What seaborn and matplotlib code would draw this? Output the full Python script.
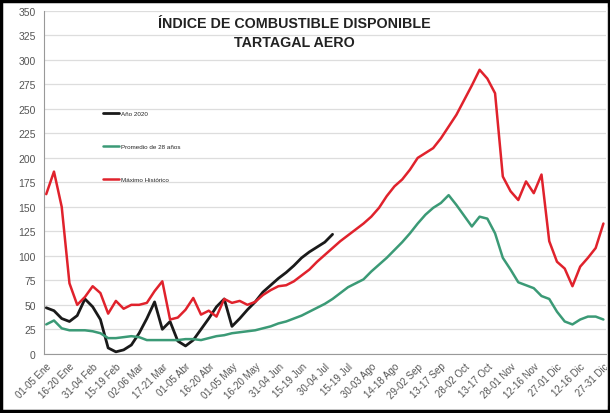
import numpy as np
import matplotlib.pyplot as plt
import seaborn as sns
from matplotlib.patches import Rectangle
from matplotlib.lines import Line2D

# etiquetas cada 3 pentadas (73 pentadas en el año)
tick_labels = ["01-05 Ene", "16-20 Ene", "31-04 Feb", "15-19 Feb", "02-06 Mar",
               "17-21 Mar", "01-05 Abr", "16-20 Abr", "01-05 May", "16-20 May",
               "31-04 Jun", "15-19 Jun", "30-04 Jul", "15-19 Jul", "30-03 Ago",
               "14-18 Ago", "29-02 Sep", "13-17 Sep", "28-02 Oct", "13-17 Oct",
               "28-01 Nov", "12-16 Nov", "27-01 Dic", "12-16 Dic", "27-31 Dic"]

anio_2020 = [47, 44, 36, 33, 39, 56, 48, 35, 6, 2, 4, 9, 21, 36, 53, 25, 33, 13,
             8, 14, 25, 36, 48, 56, 28, 36, 45, 53, 63, 70, 77, 83, 90, 98, 104,
             109, 114, 122]

promedio = [30, 34, 26, 24, 24, 24, 23, 21, 16, 16, 17, 18, 17, 14, 14, 14, 14,
            14, 15, 15, 14, 16, 18, 19, 21, 22, 23, 24, 26, 28, 31, 33, 36, 39,
            43, 47, 51, 56, 62, 68, 72, 76, 84, 91, 98, 106, 114, 123, 133, 142,
            149, 154, 162, 152, 141, 130, 140, 138, 123, 98, 86, 73, 70, 67, 59,
            56, 43, 33, 30, 35, 38, 38, 35]

maximo = [163, 186, 150, 72, 50, 58, 69, 62, 41, 54, 46, 50, 50, 52, 64, 74, 35,
          37, 45, 57, 40, 44, 38, 56, 52, 54, 50, 53, 60, 65, 69, 70, 74, 80, 86,
          94, 101, 108, 115, 121, 127, 133, 140, 149, 161, 171, 178, 188, 200,
          205, 210, 220, 232, 244, 259, 274, 290, 281, 266, 181, 166, 157, 176,
          164, 183, 115, 94, 87, 69, 89, 98, 108, 133]

pentadas = np.arange(len(maximo))

sns.set_style("white")
plt.rcParams["font.family"] = ["Liberation Sans", "DejaVu Sans"]

fig = plt.figure(figsize=(6.1, 4.14), dpi=100)
ax = fig.add_axes([0.072, 0.143, 0.921, 0.828])

sns.lineplot(x=pentadas[:len(anio_2020)], y=anio_2020, ax=ax, color="#1a1a1a",
             linewidth=2.0, label="Año 2020")
sns.lineplot(x=pentadas, y=promedio, ax=ax, color="#3b9a76", linewidth=1.8,
             label="Promedio de 28 años")
sns.lineplot(x=pentadas, y=maximo, ax=ax, color="#e0222c", linewidth=1.8,
             label="Máximo Histórico")

ax.set_ylim(0, 350)
ax.set_yticks(np.arange(0, 351, 25))
ax.set_xlim(-0.3, 72.3)
ax.set_xticks(pentadas[::3])
ax.set_xticklabels(tick_labels, rotation=45, ha="right", rotation_mode="anchor",
                   fontsize=7, color="#555555")
ax.set_xticks(pentadas, minor=True)
ax.tick_params(axis="y", labelsize=7.5, colors="#555555", length=3, pad=3,
               color="#999999")
ax.tick_params(axis="x", which="both", length=3, color="#999999", pad=2)
ax.grid(axis="y", color="#dddddd", linewidth=0.9)
ax.grid(axis="x", visible=False)
for s in ["top", "right"]:
    ax.spines[s].set_visible(False)
ax.spines["left"].set_color("#999999")
ax.spines["bottom"].set_color("#999999")

ax.legend(loc="upper left", bbox_to_anchor=(0.095, 0.725), frameon=False,
          fontsize=4.5, labelspacing=4.4, handlelength=2.6, handletextpad=0.3)

fig.text(0.483, 0.96, "ÍNDICE DE COMBUSTIBLE DISPONIBLE\nTARTAGAL AERO",
         fontsize=10.3, fontweight="bold", color="#222222", ha="center",
         va="top", linespacing=1.5)

# marco del gráfico
fig.add_artist(Line2D([0.995, 0.995], [0.02, 0.98], transform=fig.transFigure,
                      color="#cccccc", linewidth=0.8))
fig.patches.append(Rectangle((0.002, 0.004), 0.996, 0.992, transform=fig.transFigure,
                             fill=False, edgecolor="black", linewidth=2.5))

fig.savefig("out.png", dpi=100)
